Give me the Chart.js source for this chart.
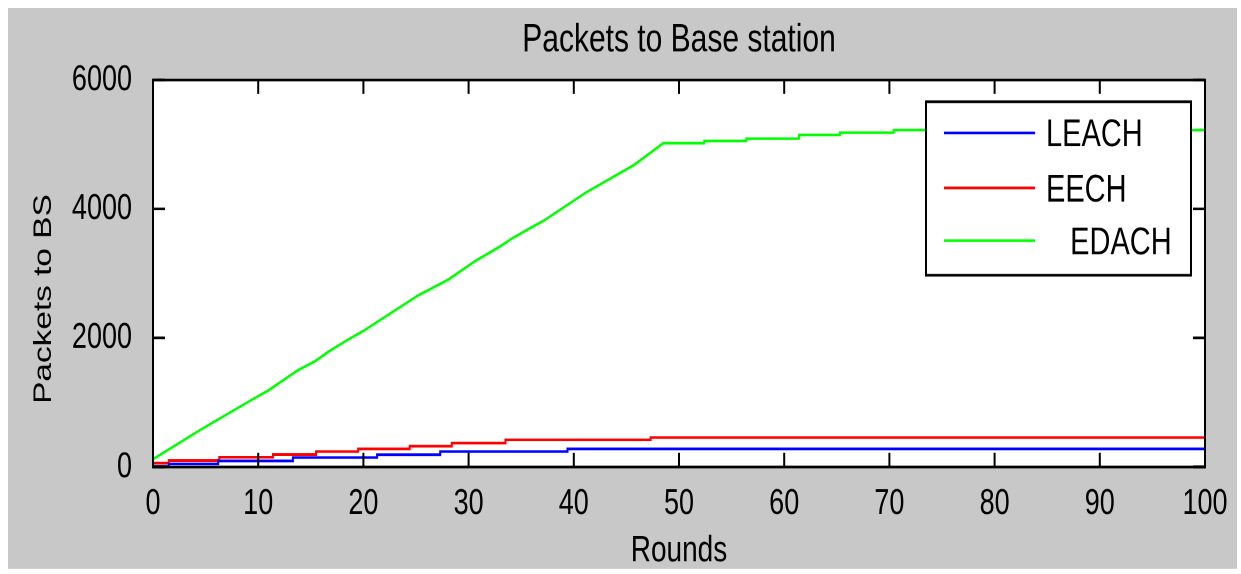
<!DOCTYPE html>
<html>
<head>
<meta charset="utf-8">
<script src="https://cdn.jsdelivr.net/npm/chart.js@4/dist/chart.umd.min.js"></script>
<style>
  html, body { margin: 0; padding: 0; background: #fff; }
  /* the source figure is stretched vertically, so the chart is drawn short and scaled up */
  #wrap { position: absolute; left: 0; top: 0; width: 1241px; height: 430px;
          transform: scaleY(1.3349); transform-origin: 0 0; }
</style>
</head>
<body>
<div id="wrap"><canvas id="chart"></canvas></div>
<script>
// --data
var leachRounds  = [0, 1.5, 6.2, 13.3, 21.3, 27.3, 39.4, 74.3, 100];
var leachPackets = [0, 10, 47, 95, 145, 190, 238, 280, 280];

var eechRounds  = [0, 1.5, 6.3, 11.4, 15.5, 19.5, 24.4, 28.4, 33.5, 47.3, 86.3, 100];
var eechPackets = [20, 60, 100, 151, 192, 238, 280, 322, 370, 420, 456, 456];

var edachRounds  = [0, 4.5, 9.9, 11, 13.7, 15.4, 16.8, 18.7, 20, 25.2, 28.1, 30.6, 33, 34.1, 35.8, 37.1, 41.2, 45.7, 48.5,
                    52.4, 52.4, 56.4, 56.4, 61.4, 61.4, 65.3, 65.3, 70.4, 70.4, 100];
var edachPackets = [120, 575, 1090, 1190, 1493, 1640, 1800, 1990, 2110, 2660, 2908, 3190, 3420, 3540, 3700, 3815, 4260, 4680, 5019,
                    5019, 5054, 5054, 5090, 5090, 5148, 5148, 5184, 5184, 5225, 5225];

var seriesNames = ['LEACH', 'EECH', '   EDACH'];
var seriesColors = ['#0000ff', '#ff0000', '#00ff00'];
var xTicks = [0, 10, 20, 30, 40, 50, 60, 70, 80, 90, 100];
var yTicks = [0, 2000, 4000, 6000];
var yTitle = 'Packets to BS';

var FONT = '"Liberation Sans", Arial, sans-serif';

function pairs(xs, ys) {
  return xs.map(function(x, i) { return {x: x, y: ys[i]}; });
}

// --matlab style frame: gray figure, white axes, inward ticks, boxed legend
var matlabFrame = {
  id: 'matlabFrame',
  beforeDraw: function(chart) {
    var ctx = chart.ctx, a = chart.chartArea;
    ctx.save();
    ctx.fillStyle = '#ffffff';
    ctx.fillRect(0, 0, chart.width, chart.height);
    ctx.fillStyle = '#c8c8c8';
    ctx.fillRect(8, 6, 1229, 420);
    ctx.fillStyle = '#ffffff';
    ctx.fillRect(a.left, a.top, a.right - a.left, a.bottom - a.top);
    ctx.restore();
  },
  afterDraw: function(chart) {
    var ctx = chart.ctx, a = chart.chartArea;
    var xs = chart.scales.x, ys = chart.scales.y;
    ctx.save();
    ctx.strokeStyle = '#000';
    ctx.lineWidth = 2;
    ctx.beginPath();
    xTicks.forEach(function(v) {
      var px = xs.getPixelForValue(v);
      ctx.moveTo(px, a.bottom); ctx.lineTo(px, a.bottom - 10.5);
      ctx.moveTo(px, a.top); ctx.lineTo(px, a.top + 10.5);
    });
    yTicks.forEach(function(v) {
      var py = ys.getPixelForValue(v);
      ctx.moveTo(a.left, py); ctx.lineTo(a.left + 12, py);
      ctx.moveTo(a.right, py); ctx.lineTo(a.right - 12, py);
    });
    ctx.stroke();
    ctx.strokeRect(a.left, a.top, a.right - a.left, a.bottom - a.top);

    // y axis title, sits a little below the middle like in the figure
    ctx.fillStyle = '#000';
    ctx.save();
    ctx.translate(44, 224);
    ctx.rotate(-Math.PI / 2);
    ctx.font = '25px ' + FONT;
    ctx.textAlign = 'center';
    ctx.textBaseline = 'middle';
    ctx.fillText(yTitle, 0, 0);
    ctx.restore();

    // legend box
    var lx = 926, ly = 76.2, lw = 265, lh = 130;
    ctx.fillStyle = '#fff';
    ctx.fillRect(lx, ly, lw, lh);
    ctx.strokeRect(lx, ly, lw, lh);
    var rows = [99.6, 140.8, 180.3];
    ctx.font = '29px ' + FONT;
    ctx.textBaseline = 'middle';
    ctx.textAlign = 'left';
    chart.data.datasets.forEach(function(ds, i) {
      ctx.strokeStyle = ds.borderColor;
      ctx.lineWidth = 2;
      ctx.beginPath();
      ctx.moveTo(944, rows[i]); ctx.lineTo(1035, rows[i]);
      ctx.stroke();
      ctx.fillStyle = '#000';
      ctx.fillText(ds.label, 1046, rows[i] + 2);
    });
    ctx.restore();
  }
};

new Chart(document.getElementById('chart'), {
  type: 'line',
  data: {
    datasets: [
      {label: seriesNames[0], data: pairs(leachRounds, leachPackets), borderColor: seriesColors[0], stepped: 'after'},
      {label: seriesNames[1], data: pairs(eechRounds, eechPackets), borderColor: seriesColors[1], stepped: 'after'},
      {label: seriesNames[2], data: pairs(edachRounds, edachPackets), borderColor: seriesColors[2]}
    ]
  },
  options: {
    responsive: true,
    maintainAspectRatio: false,
    devicePixelRatio: 2,
    animation: false,
    layout: {padding: {left: 0, right: 36, top: 0, bottom: 0}},
    elements: {
      point: {radius: 0},
      line: {borderWidth: 2, tension: 0}
    },
    plugins: {
      legend: {display: false},
      tooltip: {enabled: false},
      title: {
        display: true,
        fullSize: false,
        text: 'Packets to Base station',
        color: '#000',
        font: {family: FONT, size: 30, weight: 'normal'},
        padding: {top: 12, bottom: 11.9}
      }
    },
    scales: {
      x: {
        type: 'linear',
        min: 0,
        max: 100,
        grid: {display: false},
        border: {display: false},
        afterFit: function(s) { s.height = 80.2; },
        afterBuildTicks: function(s) { s.ticks = xTicks.map(function(v) { return {value: v}; }); },
        ticks: {color: '#000', padding: 3.5, maxRotation: 0, font: {family: FONT, size: 27}},
        title: {display: true, text: 'Rounds', color: '#000', font: {family: FONT, size: 28}, padding: {top: 0, bottom: 0.5}}
      },
      y: {
        min: 0,
        max: 6000,
        grid: {display: false},
        border: {display: false},
        afterFit: function(s) { s.width = 153; },
        afterBuildTicks: function(s) { s.ticks = yTicks.map(function(v) { return {value: v}; }); },
        ticks: {
          color: '#000', padding: 13, font: {family: FONT, size: 27},
          callback: function(v) { return String(v); }
        }
      }
    }
  },
  plugins: [matlabFrame]
});
</script>
</body>
</html>
